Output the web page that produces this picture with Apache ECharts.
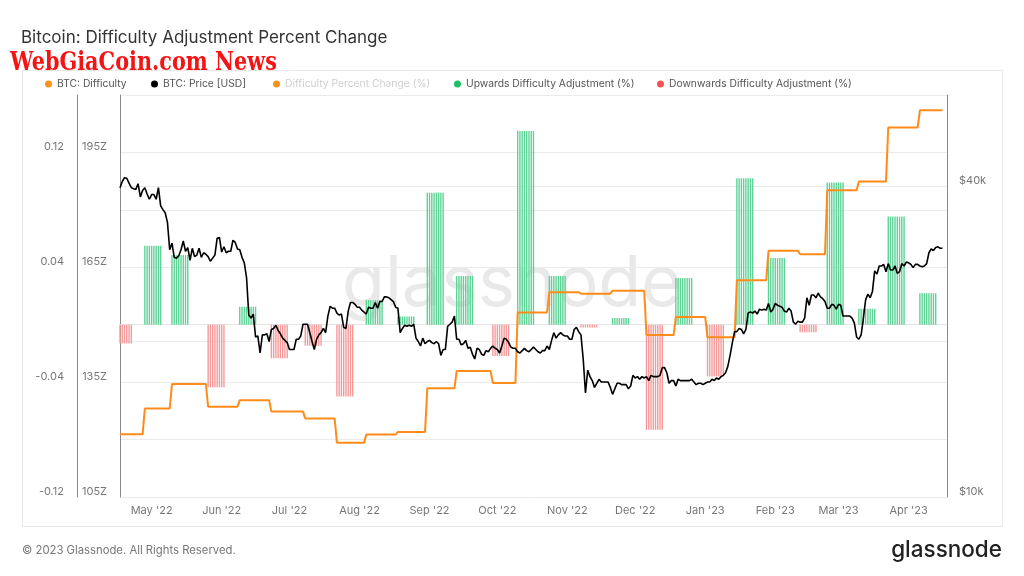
<!DOCTYPE html>
<html>
<head>
<meta charset="utf-8">
<script src="https://cdn.jsdelivr.net/npm/echarts@6/dist/echarts.min.js"></script>
<style>html,body{margin:0;padding:0;background:#fff}#c{width:1024px;height:576px}</style>
</head>
<body>
<div id="c"></div>
<script>
// ---------------- DATA ----------------
const rangeStart = '2022-04-17';
const rangeEnd = '2023-04-18';
const lineEnd = '2023-04-16';

// Difficulty epochs: start date, percent change (fraction), difficulty level after adjustment (Z)
const epochStart = [
  '2022-04-15','2022-04-28','2022-05-10','2022-05-26','2022-06-09','2022-06-23','2022-07-08',
  '2022-07-22','2022-08-04','2022-08-18','2022-08-31','2022-09-13','2022-09-29','2022-10-10',
  '2022-10-24','2022-11-07','2022-11-21','2022-12-06','2022-12-19','2023-01-02','2023-01-15',
  '2023-01-29','2023-02-12','2023-02-24','2023-03-10','2023-03-23','2023-04-06'
];
const epochChange = [
  -0.0130, 0.0550, 0.0485, -0.0436, 0.0125, -0.0234, -0.0146,
  -0.0500, 0.0172, 0.0058, 0.0920, 0.0339, -0.0218, 0.1350,
  0.0339, -0.0020, 0.0046, -0.0732, 0.0325, -0.0360, 0.1020,
  0.0464, -0.0053, 0.0990, 0.0111, 0.0753, 0.0220
];
const epochDifficulty = [
  121.4, 128.1, 134.5, 128.6, 130.3, 127.3, 125.5,
  119.2, 121.3, 122.0, 133.4, 137.9, 134.8, 153.2,
  158.5, 158.1, 158.9, 147.3, 152.0, 146.7, 161.6,
  169.3, 168.4, 185.1, 187.4, 201.5, 206.0
];
const barDaysPerEpoch = 8;

// BTC price (USD thousands), daily from 2022-04-17
const priceApr22 = [39.7,40.8,41.5,41.4,40.5,39.7,39.5,39.4,40.4,38.1,39.2,39.7,38.6,37.7];
const priceMay22 = [38.5,38.5,37.7,39.7,36.6,36.0,35.5,34.0,30.1,31.0,29.1,29.0,29.3,30.1,31.3,29.9,30.4,28.7,30.3,29.2,29.4,30.3,29.1,29.7,29.5,29.2,28.6,29.0,29.4,31.7,31.8];
const priceJun22 = [29.8,30.5,29.7,29.9,29.9,31.4,31.1,30.2,30.1,29.1,28.4,26.6,22.5,22.2,22.6,20.4,20.5,19.0,20.6,20.6,20.7,20.0,21.1,21.2,21.5,21.0,20.7,20.3,20.1,19.9];
const priceJul22 = [19.3,19.3,19.3,20.2,20.2,20.5,21.6,21.6,21.6,20.8,20.0,19.3,20.2,20.6,20.8,21.2,20.8,22.4,23.4,23.2,23.2,22.7,22.5,22.6,21.3,21.2,22.9,23.8,23.8,23.6,23.3];
const priceAug22 = [23.3,23.0,22.8,22.6,23.3,23.2,23.2,23.8,23.2,23.9,23.9,24.4,24.4,24.3,24.1,23.9,23.3,23.2,20.8,21.2,21.5,21.4,21.5,21.4,21.6,20.3,20.0,19.6,20.3,19.8,20.0];
const priceSep22 = [20.1,19.9,19.8,20.0,19.8,18.8,19.3,19.3,21.4,21.6,21.8,22.4,20.2,20.2,19.7,19.8,20.1,19.4,19.5,18.9,18.5,19.4,19.3,18.9,18.8,19.2,19.1,19.4,19.6,19.4];
const priceOct22 = [19.3,19.0,19.6,20.3,20.2,19.9,19.5,19.4,19.4,19.1,19.0,19.2,19.4,19.2,19.1,19.3,19.5,19.3,19.1,19.0,19.2,19.2,19.6,19.3,20.1,20.8,20.3,20.6,20.8,20.6,20.5];
const priceNov22 = [20.5,20.2,20.2,21.1,21.3,20.9,20.6,18.5,15.9,17.6,17.1,16.8,16.3,16.6,16.9,16.7,16.7,16.7,16.7,16.3,15.8,16.2,16.6,16.6,16.5,16.5,16.5,16.2,16.4,17.2];
const priceDec22 = [17.0,17.1,16.9,17.1,17.0,17.1,16.8,17.2,17.1,17.1,17.1,17.2,17.8,17.8,17.4,16.6,16.8,16.8,16.4,16.9,16.8,16.8,16.8,16.8,16.8,16.9,16.7,16.5,16.6,16.6,16.5];
const priceJan23 = [16.6,16.7,16.7,16.9,16.8,17.0,16.9,17.1,17.2,17.4,17.9,18.8,19.9,20.9,20.9,21.2,21.1,20.7,21.1,22.7,22.8,22.7,22.9,22.6,23.1,23.0,23.1,23.0,23.7,22.8,23.1];
const priceFeb23 = [23.7,23.5,23.4,23.3,22.9,22.8,23.2,22.9,21.8,21.6,21.9,21.8,21.8,22.2,24.3,23.5,24.6,24.6,24.3,24.8,24.4,24.2,23.9,23.2,23.2,23.6,23.5,23.1];
const priceMar23 = [23.6,23.5,22.4,22.4,22.4,22.4,22.2,21.7,20.4,20.2,20.6,22.2,24.1,24.7,24.3,25.0,27.4,27.0,28.0,28.0,28.2,27.3,28.3,27.5,27.5,28.0,27.1,27.3,28.3,28.0,28.5];
const priceApr23 = [28.4,28.2,27.8,28.2,28.2,28.0,27.9,28.0,28.3,29.7,30.2,30.0,30.4,30.5,30.3,30.3];

const monthNames = ['Jan','Feb','Mar','Apr','May','Jun','Jul','Aug','Sep','Oct','Nov','Dec'];
const pctLabelValues = [-0.12, -0.04, 0.04, 0.12];
const diffLabelValues = [105, 135, 165, 195];
const priceLabelValues = [10, 40];
const priceGridValues = [20, 40];

// ---------------- BUILD ----------------
function addDays(s, n) {
  const d = new Date(s + 'T00:00:00Z');
  d.setUTCDate(d.getUTCDate() + n);
  return d.toISOString().slice(0, 10);
}
const dates = [];
for (let d = rangeStart; d <= rangeEnd; d = addDays(d, 1)) dates.push(d);

const priceAll = [].concat(priceApr22, priceMay22, priceJun22, priceJul22, priceAug22, priceSep22,
  priceOct22, priceNov22, priceDec22, priceJan23, priceFeb23, priceMar23, priceApr23);

const priceData = dates.map((d, i) => (i < priceAll.length ? priceAll[i] : null));
const difficultyData = dates.map(d => {
  if (d > lineEnd) return null;
  let v = null;
  for (let k = 0; k < epochStart.length; k++) if (epochStart[k] <= d) v = epochDifficulty[k];
  return v;
});
const adjData = dates.map(d => {
  for (let k = 0; k < epochStart.length; k++) {
    if (d >= epochStart[k] && d < addDays(epochStart[k], barDaysPerEpoch)) return epochChange[k];
  }
  return null;
});
const upData = adjData.map(v => (v !== null && v > 0 ? v : null));
const downData = adjData.map(v => (v !== null && v < 0 ? v : null));

const near = (arr, v) => arr.some(a => Math.abs(a - v) < 1e-6);

const FONT = 'Inter, "Noto Sans", sans-serif';
const legendBase = {
  icon: 'circle', itemWidth: 7, itemHeight: 7, top: 79, padding: 0, selectedMode: false,
  textStyle: { fontSize: 10.3, color: '#555', fontFamily: FONT }
};

const chart = echarts.init(document.getElementById('c'), null, { renderer: 'canvas' });
chart.setOption({
  backgroundColor: '#fff',
  animation: false,
  textStyle: { fontFamily: FONT },
  title: {
    text: 'Bitcoin: Difficulty Adjustment Percent Change',
    left: 16, top: 24,
    textStyle: { fontSize: 17, fontWeight: 'normal', color: '#333', fontFamily: FONT }
  },
  legend: [
    Object.assign({}, legendBase, { left: 45, data: [{ name: 'BTC: Difficulty', itemStyle: { color: '#f7931a' } }] }),
    Object.assign({}, legendBase, { left: 151, data: [{ name: 'BTC: Price [USD]', itemStyle: { color: '#000' } }] }),
    Object.assign({}, legendBase, { left: 273, data: [{ name: 'Difficulty Percent Change (%)', itemStyle: { color: '#f7931a' }, textStyle: { color: '#cfcfcf' } }] }),
    Object.assign({}, legendBase, { left: 454, data: [{ name: 'Upwards Difficulty Adjustment (%)', itemStyle: { color: '#1fbf68' } }] }),
    Object.assign({}, legendBase, { left: 657, data: [{ name: 'Downwards Difficulty Adjustment (%)', itemStyle: { color: '#f25454' } }] })
  ],
  grid: { left: 120, right: 77, top: 95, bottom: 79 },
  xAxis: {
    type: 'category',
    data: dates,
    boundaryGap: false,
    axisLine: { show: true, lineStyle: { color: '#e4e4e4' } },
    axisTick: { show: false },
    splitLine: { show: false },
    axisLabel: {
      interval: (idx, val) => val.slice(8) === '01',
      formatter: v => monthNames[+v.slice(5, 7) - 1] + " '" + v.slice(2, 4),
      color: '#777', fontSize: 11, margin: 8, fontFamily: FONT
    }
  },
  yAxis: [
    {
      type: 'value', position: 'left', offset: 43,
      min: -0.12, max: 0.16, interval: 0.04,
      axisLine: { show: true, lineStyle: { color: '#8a8a8a' } },
      axisTick: { show: false },
      splitLine: { show: false },
      axisLabel: {
        color: '#777', fontSize: 11, margin: 13, verticalAlign: 'bottom', fontFamily: FONT,
        showMaxLabel: false,
        formatter: v => (near(pctLabelValues, v) ? v.toFixed(2) : '')
      }
    },
    {
      type: 'value', position: 'left', offset: 0,
      min: 105, max: 210, interval: 15,
      axisLine: { show: true, lineStyle: { color: '#8a8a8a' } },
      axisTick: { show: false },
      splitLine: { show: true, lineStyle: { color: '#ebebeb' } },
      axisLabel: {
        color: '#777', fontSize: 11, margin: 13, verticalAlign: 'bottom', fontFamily: FONT,
        showMaxLabel: false,
        formatter: v => (near(diffLabelValues, v) ? v + 'Z' : '')
      }
    },
    {
      type: 'log', logBase: 10, position: 'right',
      min: 10, max: 60,
      axisLine: { show: true, lineStyle: { color: '#8a8a8a' } },
      axisTick: { show: false, customValues: priceGridValues },
      splitLine: { show: true, lineStyle: { color: '#ebebeb' } },
      axisLabel: {
        customValues: priceLabelValues,
        color: '#777', fontSize: 11, margin: 12, verticalAlign: 'bottom', fontFamily: FONT,
        formatter: v => '$' + Math.round(v) + 'k'
      }
    }
  ],
  series: [
    {
      name: 'Upwards Difficulty Adjustment (%)', type: 'bar', yAxisIndex: 0,
      data: upData, stack: 'adj', barWidth: 1.4,
      itemStyle: { color: '#5fd396' }, z: 1, silent: true
    },
    {
      name: 'Downwards Difficulty Adjustment (%)', type: 'bar', yAxisIndex: 0,
      data: downData, stack: 'adj', barWidth: 1.4,
      itemStyle: { color: '#f59a9a' }, z: 1, silent: true
    },
    {
      name: 'Difficulty Percent Change (%)', type: 'line', yAxisIndex: 0,
      data: [], itemStyle: { color: '#f7931a' }
    },
    {
      name: 'BTC: Difficulty', type: 'line', yAxisIndex: 1,
      data: difficultyData, showSymbol: false, symbol: 'none',
      lineStyle: { color: '#ff8c1a', width: 2 }, itemStyle: { color: '#ff8c1a' }, z: 3
    },
    {
      name: 'BTC: Price [USD]', type: 'line', yAxisIndex: 2,
      data: priceData, showSymbol: false, symbol: 'none',
      lineStyle: { color: '#000', width: 1.6 }, itemStyle: { color: '#000' }, z: 4
    }
  ],
  graphic: [
    {
      type: 'rect', silent: true, z: -10,
      shape: { x: 22.5, y: 70.5, width: 980, height: 456 },
      style: { fill: 'none', stroke: '#e8e8e8', lineWidth: 1 }
    },
    {
      type: 'text', silent: true, z: -5, left: 'center', top: 250,
      style: { text: 'glassnode', fontSize: 70, fontFamily: FONT, fill: '#e9e9e9' }
    },
    {
      type: 'text', silent: true, z: 10, x: 10, y: 63, scaleX: 0.8,
      style: { text: 'WebGiaCoin.com News', fontSize: 26, fontWeight: 'bold', fontFamily: '"DejaVu Serif", serif', fill: '#f51414', verticalAlign: 'middle' }
    },
    {
      type: 'text', silent: true, left: 22, top: 545,
      style: { text: '\u00a9 2023 Glassnode. All Rights Reserved.', fontSize: 11.3, fontFamily: FONT, fill: '#777' }
    },
    {
      type: 'text', silent: true, right: 22, top: 539,
      style: { text: 'glassnode', fontSize: 22.5, fontFamily: FONT, fill: '#222', fontWeight: 500 }
    }
  ]
});
</script>
</body>
</html>
